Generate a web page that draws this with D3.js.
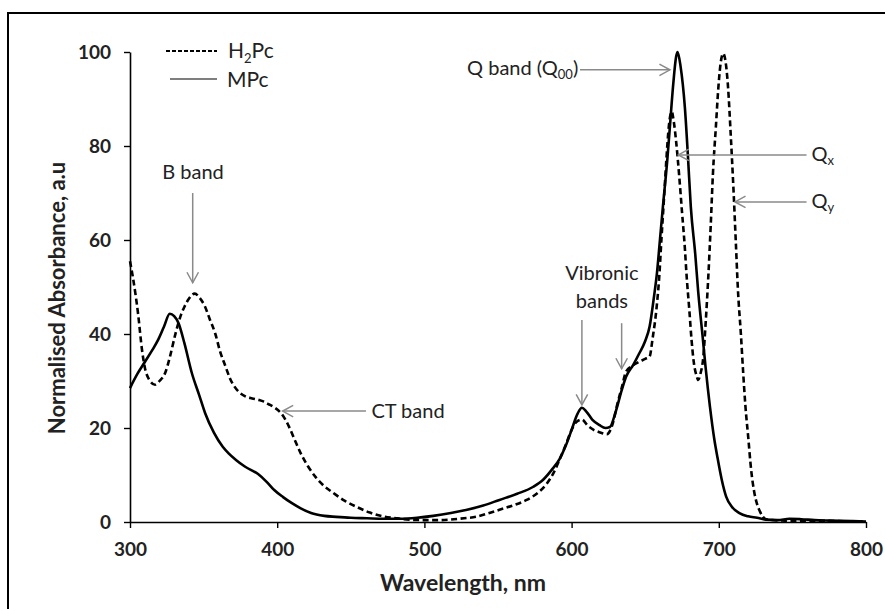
<!DOCTYPE html>
<html><head><meta charset="utf-8">
<script src="https://cdn.jsdelivr.net/npm/d3@7"></script>
<style>
html,body{margin:0;padding:0;background:#fff;}
svg{display:block;}
text{font-family:Lato,"Open Sans",sans-serif;}
</style></head>
<body>
<svg id="chart" width="885" height="609"></svg>
<script>
// ---- Data ----
const xTicks = [300, 400, 500, 600, 700, 800];
const yTicks = [0, 20, 40, 60, 80, 100];
const seriesNames = ["H2Pc", "MPc"];

const mpcWl = [300,305,310,315,319,323,327,330,333,337,342,347,351,357,363,367,372,378,387,393,398,404,410,416,423,432,440,450,461,472,483,495,506,518,529,540,551,563,574,581,587,592,596,600,604,607,610,614,619,623,626,630,634,637,642,646,650,653,656,658,660,662,665,667,669,671,672,674,677,679,681,684,686,689,691,694,697,699,702,705,709,714,720,726,732,740,748,756,765,775,790,800];
const mpcVal = [28.5,31.5,34,36.5,38.7,41.5,44.3,43.8,42.3,38,31.7,27,23.2,19,16,14.6,13.2,11.8,10.2,8.5,6.8,5.3,4.0,2.9,1.9,1.3,1.1,0.9,0.8,0.7,0.7,0.9,1.3,1.9,2.6,3.5,4.7,6.0,7.5,9.1,11.3,13.5,16.2,19.6,23,24.3,23.5,21.8,20.6,20,20.2,23.5,28,30.9,33.5,35.9,38.5,41.6,48,53,60,67,77,85,93,99,100,97,88,78,67,57,49,39.5,33,24.5,17.5,13.9,9,5.4,3.2,1.9,1.2,0.9,0.5,0.4,0.7,0.6,0.4,0.3,0.2,0.1];

const h2pcWl = [300,302,305.6,308,310,313,317,320,324,327,331,334,337,340,344,347,351,354,358,361,365,368,371,375,378,383,387,391,394,398,403,408,412,416,421,426,430,438,446,454,463,472,481,490,500,510,517,527,535,543,551,560,569.5,577,583,588,592,596,600,603,607,611,615,619,624,628,631,634,637,641,646,650,653,655,657.8,659.5,661,663,664.5,666,668,669.5,671,673,675,677,678,680,681.5,683,685,686,687.5,689.5,691,693,694.5,696,698,699.6,701,703,705,706.4,708,710,711.5,713,715,716.6,718,720,722,724,726,728,730,733,745,760,780,800];
const h2pcVal = [55.5,52,44,37,33,30.3,29.2,30,31.8,35,40.2,43.5,45.8,47.5,48.6,47.8,45.8,43.3,40,36.5,33,30.5,28.8,27.4,26.8,26.3,26,25.6,25.1,24.4,23,20.3,17.4,14.6,11.8,9.6,8.2,6.2,4.5,3.2,2.0,1.2,0.8,0.5,0.4,0.4,0.5,0.8,1.1,1.8,2.6,3.5,4.7,6.2,8.1,10.6,13.4,16.4,19.6,21.2,21.8,20.5,19.6,19.1,18.7,21,25,28.5,32,33.2,34.1,34.7,35.2,39,45.8,52,60,70,77.7,84,87.3,85,81,74,66,58,53,45,38.7,34,31,30.2,31.5,35.2,42,53,63,74,84,92,97,99.7,97,92,83,70.6,60,49.4,40,31.6,25,18,11,6.5,3.8,2.2,1.1,0.5,0.3,0.3,0.2,0.1];

// annotation labels
const annoLabels = ["Q band (Q", "Q", "Q", "B band", "CT band", "Vibronic", "bands"];

// ---- Layout ----
const svg = d3.select("#chart");
const x = d3.scaleLinear().domain([300, 800]).range([130, 866]);
const y = d3.scaleLinear().domain([0, 100]).range([522, 52]);
const ink = "#222";

// outer frame (right and bottom edges fall outside the picture)
svg.append("rect").attr("x", 8).attr("y", 13).attr("width", 900).attr("height", 620)
  .attr("fill", "none").attr("stroke", "#000").attr("stroke-width", 2);

// axes
const xAxis = d3.axisBottom(x).tickValues(xTicks).tickSize(6).tickSizeOuter(0).tickPadding(15).tickFormat(d3.format("d"));
const yAxis = d3.axisLeft(y).tickValues(yTicks).tickSize(6).tickSizeOuter(0).tickPadding(13).tickFormat(d3.format("d"));

const gx = svg.append("g").attr("transform", `translate(0,${y(0)})`).call(xAxis);
const gy = svg.append("g").attr("transform", `translate(${x(300)},0)`).call(yAxis);
[gx, gy].forEach(g => {
  g.select(".domain").attr("stroke", "#000").attr("stroke-width", 1.6);
  g.selectAll(".tick line").attr("stroke", "#000").attr("stroke-width", 1.4);
  g.selectAll(".tick text").attr("fill", ink).style("font-family", "Lato, sans-serif")
    .style("font-size", "19px").style("font-weight", "bold");
});

// axis titles
svg.append("text").attr("x", 463).attr("y", 591).attr("text-anchor", "middle")
  .style("font-size", "23px").style("font-weight", "bold").attr("fill", ink).text("Wavelength, nm");
svg.append("text").attr("transform", "translate(65,298) rotate(-90)").attr("text-anchor", "middle")
  .style("font-size", "22px").style("font-weight", "bold").attr("fill", ink).text("Normalised Absorbance, a.u");

// curves
const line = d3.line().x(d => x(d[0])).y(d => y(d[1])).curve(d3.curveMonotoneX);
const mpc = mpcWl.map((w, i) => [w, mpcVal[i]]);
const h2pc = h2pcWl.map((w, i) => [w, h2pcVal[i]]);

svg.append("path").datum(mpc).attr("d", line).attr("fill", "none")
  .attr("stroke", "#000").attr("stroke-width", 2.6);
svg.append("path").datum(h2pc).attr("d", line).attr("fill", "none")
  .attr("stroke", "#000").attr("stroke-width", 2.6).attr("stroke-dasharray", "6,3.5");

// legend
svg.append("line").attr("x1", 166).attr("x2", 217).attr("y1", 51).attr("y2", 51)
  .attr("stroke", "#000").attr("stroke-width", 1.8).attr("stroke-dasharray", "4,2");
svg.append("line").attr("x1", 170).attr("x2", 217).attr("y1", 79).attr("y2", 79)
  .attr("stroke", "#000").attr("stroke-width", 1.2);
const lt1 = svg.append("text").attr("x", 228).attr("y", 58).style("font-size", "21px").attr("fill", ink);
lt1.append("tspan").text("H");
lt1.append("tspan").text("2").style("font-size", "13px").attr("dy", 5);
lt1.append("tspan").text("Pc").attr("dy", -5);
svg.append("text").attr("x", 227).attr("y", 87).style("font-size", "21px").attr("fill", ink).text(seriesNames[1]);

// annotations
const gray = "#8a8a8a";
function arrow(x1, y1, x2, y2) {
  svg.append("line").attr("x1", x1).attr("y1", y1).attr("x2", x2).attr("y2", y2)
    .attr("stroke", gray).attr("stroke-width", 1.5);
  const a = Math.atan2(y2 - y1, x2 - x1), L = 12, h = 0.5;
  const p = [[x2 - L * Math.cos(a - h), y2 - L * Math.sin(a - h)], [x2, y2], [x2 - L * Math.cos(a + h), y2 - L * Math.sin(a + h)]];
  svg.append("path").attr("d", d3.line()(p)).attr("fill", "none").attr("stroke", gray).attr("stroke-width", 1.5);
}
const fs = "20px", fsSub = "13px";

// Q band (Q00)
arrow(x(605.7), y(96.2), x(666.8), y(96.2));
const tq = svg.append("text").attr("x", x(604.5)).attr("y", y(96.2) + 5).attr("text-anchor", "end").style("font-size", fs).attr("fill", ink);
tq.append("tspan").text(annoLabels[0]);
tq.append("tspan").text("00").style("font-size", fsSub).attr("dy", 4);
tq.append("tspan").text(")").attr("dy", -4);

// Qx
arrow(x(759.6), y(78.1), x(672.5), y(78.1));
const tqx = svg.append("text").attr("x", x(763)).attr("y", y(78.1) + 6).style("font-size", fs).attr("fill", ink);
tqx.append("tspan").text(annoLabels[1]);
tqx.append("tspan").text("x").style("font-size", fsSub).attr("dy", 4);

// Qy
arrow(x(759.6), y(68.1), x(711), y(68.1));
const tqy = svg.append("text").attr("x", x(763)).attr("y", y(68.1) + 6).style("font-size", fs).attr("fill", ink);
tqy.append("tspan").text(annoLabels[2]);
tqy.append("tspan").text("y").style("font-size", fsSub).attr("dy", 4);

// B band
arrow(x(342.6), y(70), x(342.6), y(50.9));
svg.append("text").attr("x", x(342.8)).attr("y", 179).attr("text-anchor", "middle").style("font-size", fs).attr("fill", ink).text(annoLabels[3]);

// CT band
arrow(x(460.3), y(23.6), x(403.7), y(23.6));
svg.append("text").attr("x", x(464)).attr("y", y(23.6) + 7).style("font-size", fs).attr("fill", ink).text(annoLabels[4]);

// Vibronic bands
arrow(x(607), y(43), x(607), y(24.9));
arrow(x(634), y(42.3), x(634), y(32.6));
svg.append("text").attr("x", x(620.6)).attr("y", 280).attr("text-anchor", "middle").style("font-size", fs).attr("fill", ink).text(annoLabels[5]);
svg.append("text").attr("x", x(620.6)).attr("y", 308).attr("text-anchor", "middle").style("font-size", fs).attr("fill", ink).text(annoLabels[6]);
</script>
</body></html>
